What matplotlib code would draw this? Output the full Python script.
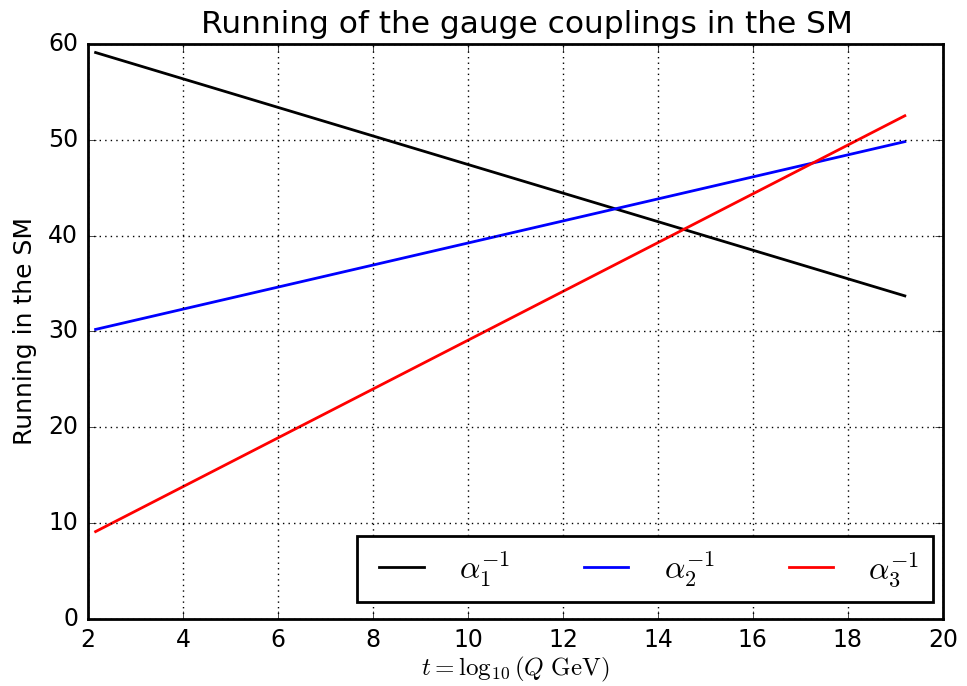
import matplotlib
matplotlib.use("Agg")
import matplotlib.pyplot as plt

# one-loop running: straight lines in t = log10(Q)
t = [2.16, 19.2]
alpha1_inv = [59.1, 33.7]
alpha2_inv = [30.2, 49.8]
alpha3_inv = [9.1, 52.5]

labels = [r'$\alpha_1^{-1}$', r'$\alpha_2^{-1}$', r'$\alpha_3^{-1}$']
colors = ['black', 'blue', 'red']

plt.style.use('classic')
plt.rcParams['mathtext.fontset'] = 'cm'

fig = plt.figure(figsize=(9.67, 6.86), dpi=100, facecolor='white')
ax = fig.add_axes([0.091, 0.098, 0.884, 0.838])

for vals, lab, c in zip([alpha1_inv, alpha2_inv, alpha3_inv], labels, colors):
    ax.plot(t, vals, color=c, lw=2, label=lab)

ax.set_xlim(2, 20)
ax.set_ylim(0, 60)
ax.set_xticks(range(2, 21, 2))
ax.set_yticks(range(0, 61, 10))
ax.tick_params(labelsize=17, direction='in', length=6, pad=7)
ax.grid(True, color='black', linestyle=':', linewidth=1)
for s in ax.spines.values():
    s.set_linewidth(2)

ax.set_title('Running of the gauge couplings in the SM', fontsize=22.5, pad=8, x=0.514)
ax.set_xlabel(r'$t = \log_{10}(Q\ \mathrm{GeV})$', fontsize=18, labelpad=2)
ax.set_ylabel('Running in the SM', fontsize=18, labelpad=8)

leg = ax.legend(loc='lower right', bbox_to_anchor=(0.988, 0.03), borderaxespad=0,
                ncol=3, fontsize=23, fancybox=False,
                handlelength=2.0, columnspacing=2.0)
leg.get_frame().set_edgecolor('black')
leg.get_frame().set_linewidth(2)

fig.savefig('out.png', dpi=100, facecolor='white')
